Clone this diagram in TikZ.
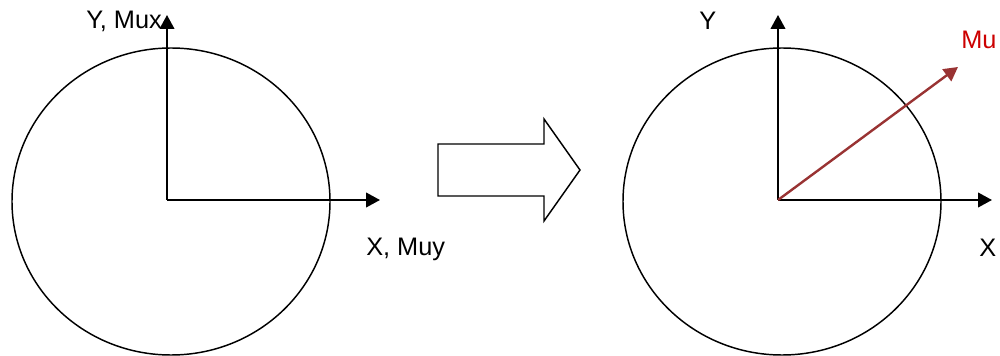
\documentclass[tikz,border=0pt]{standalone}
\usepackage{fontspec}
\setmainfont{Liberation Sans}
\usetikzlibrary{arrows.meta}
\definecolor{muarrow}{HTML}{993333}
\definecolor{mutext}{HTML}{CC0000}
\begin{document}
\begin{tikzpicture}[x=0.75pt,y=-0.75pt,
  axis/.style={line width=1.5pt,-{Triangle[length=10.5pt,width=11pt]}},
  rim/.style={line width=1.1pt},
  lbl/.style={inner sep=0pt,font=\fontsize{19}{21}\selectfont,anchor=base west},
  blockarrow/.style={line width=1.1pt,line join=miter}]
\useasboundingbox (0,0) rectangle (1000,356);
% left diagram
\coordinate (c1) at (171,201.5);
\coordinate (o1) at (167,200);
\coordinate (y1) at (167,15);
\coordinate (x1) at (380,200);
\draw[rim] (c1) ellipse [x radius=159, y radius=153.5];
\draw[axis] (o1) -- (y1);
\draw[axis] (o1) -- (x1);
\node[lbl] (ly1) at (86,29) {Y, Mux};
\node[lbl] (lx1) at (366,255) {X, Muy};
% block arrow
\draw[blockarrow] (438,144) -- (544,144) -- (544,119) -- (580,170) -- (544,221) -- (544,196) -- (438,196) -- cycle;
% right diagram
\coordinate (c2) at (782,201.5);
\coordinate (o2) at (778,200);
\coordinate (y2) at (778,15);
\coordinate (x2) at (992,200);
\coordinate (m2) at (958,67);
\draw[rim] (c2) ellipse [x radius=159, y radius=153.5];
\draw[axis] (o2) -- (y2);
\draw[axis] (o2) -- (x2);
\draw[line width=1.8pt,muarrow,-{Triangle[length=10.5pt,width=11pt]}] (o2) -- (m2);
\node[lbl] (ly2) at (699,30) {Y};
\node[lbl] (lx2) at (979,257) {X};
\node[lbl,text=mutext] (lm2) at (961,49) {Mu};
\end{tikzpicture}
\end{document}
